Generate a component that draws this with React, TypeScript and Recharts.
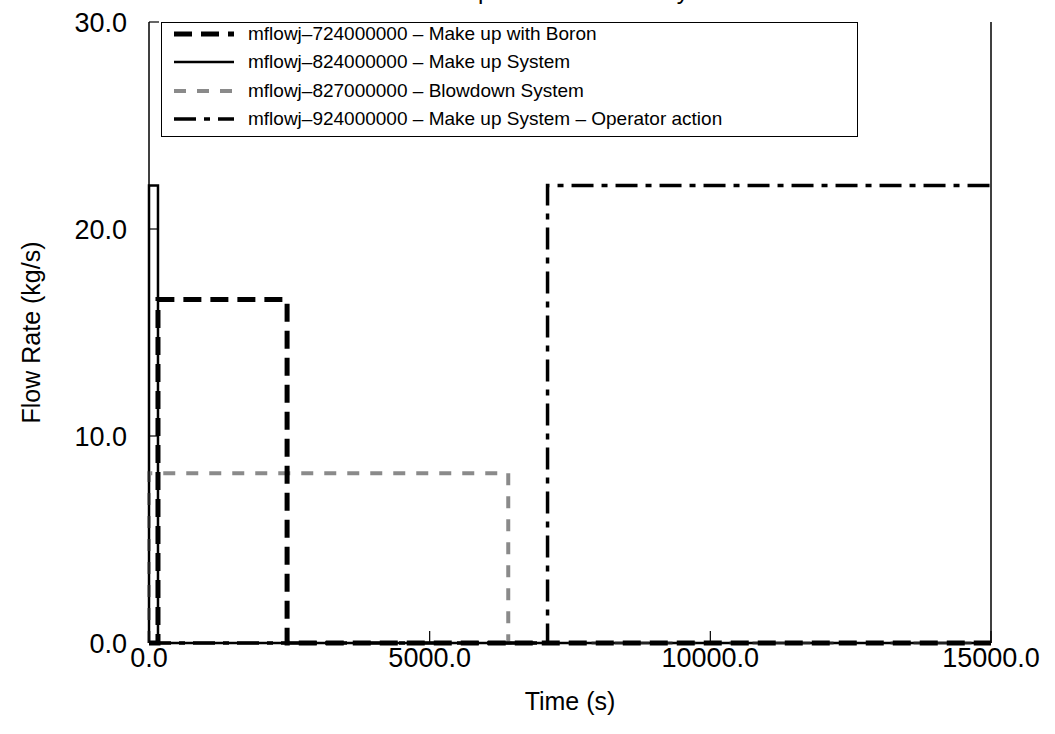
import { LineChart, Line, XAxis, YAxis, Legend } from 'recharts'

// each series is a step trace: times (s) where the flow changes, and the flow (kg/s) from then on
const boronTime = [0, 160, 2460, 15000]
const boronFlow = [0, 16.6, 0, 0]
const makeupTime = [0, 0, 160, 15000]
const makeupFlow = [0, 22.1, 0, 0]
const blowdownTime = [0, 0, 6400, 15000]
const blowdownFlow = [0, 8.2, 0, 0]
const operatorTime = [0, 7100, 15000]
const operatorFlow = [0, 22.1, 22.1]

const xMajor = [0, 5000, 10000, 15000]
const xMinor = [2500, 7500, 12500]
const yMajor = [0, 10, 20, 30]
const yMinor = [5, 15, 25]

const FONT = '"Liberation Sans", Arial, Helvetica, sans-serif'

type Pt = { t: number; v: number }
const toPoints = (time: number[], flow: number[]): Pt[] =>
  time.map((t, i) => ({ t, v: flow[i] }))

interface Series {
  id: string
  name: string
  data: Pt[]
  stroke: string
  width: number
  dash?: string
}

const series: Series[] = [
  {
    id: 'boron',
    name: 'mflowj–724000000 – Make up with Boron',
    data: toPoints(boronTime, boronFlow),
    stroke: '#000',
    width: 5,
    dash: '18 9',
  },
  {
    id: 'makeup',
    name: 'mflowj–824000000 – Make up System',
    data: toPoints(makeupTime, makeupFlow),
    stroke: '#000',
    width: 2.5,
  },
  {
    id: 'blowdown',
    name: 'mflowj–827000000 – Blowdown System',
    data: toPoints(blowdownTime, blowdownFlow),
    stroke: '#8a8a8a',
    width: 4,
    dash: '12 11',
  },
  {
    id: 'operator',
    name: 'mflowj–924000000 – Make up System – Operator action',
    data: toPoints(operatorTime, operatorFlow),
    stroke: '#000',
    width: 3.5,
    dash: '22 8 6 8',
  },
]

// paint order: thin solid first so the dashed traces sit on top of it at zero
const drawOrder = ['makeup', 'blowdown', 'boron', 'operator'].map(
  (id) => series.find((s) => s.id === id)!
)

const fmt = (v: number) => v.toFixed(1)

function LegendBox() {
  return (
    <div
      style={{
        position: 'relative',
        width: 697,
        height: 115,
        boxSizing: 'border-box',
        border: '1.5px solid #000',
        background: '#fff',
      }}
    >
      {series.map((s, i) => (
        <div
          key={s.id}
          style={{
            position: 'absolute',
            left: 0,
            top: i * 28.4 - 3,
            height: 28,
            display: 'flex',
            alignItems: 'center',
            whiteSpace: 'nowrap',
          }}
        >
          <svg width={60} height={12} style={{ marginLeft: 12, marginRight: 14 }}>
            <line
              x1={0}
              y1={6}
              x2={60}
              y2={6}
              stroke={s.stroke}
              strokeWidth={s.width}
              strokeDasharray={s.dash}
            />
          </svg>
          <span style={{ fontSize: 19, color: '#000' }}>{s.name}</span>
        </div>
      ))}
    </div>
  )
}

export default function App() {
  return (
    <div
      style={{
        position: 'absolute',
        left: 0,
        top: 0,
        width: 1055,
        height: 734,
        overflow: 'hidden',
        background: '#fff',
        fontFamily: FONT,
      }}
    >
      <div
        style={{
          position: 'absolute',
          left: 0,
          width: 1140,
          top: -21,
          lineHeight: '24px',
          fontSize: 24,
          textAlign: 'center',
          color: '#000',
        }}
      >
        Make up and Blowdown System
      </div>
      <LineChart
        width={1055}
        height={734}
        margin={{ top: 22, right: 63, bottom: 0, left: 0 }}
        style={{ fontFamily: FONT }}
      >
        <XAxis
          xAxisId="x"
          dataKey="t"
          type="number"
          domain={[0, 15000]}
          ticks={xMajor}
          interval={0}
          tickFormatter={fmt}
          tickSize={-12}
          tickMargin={17}
          height={91}
          stroke="#000"
          axisLine={{ stroke: '#000', strokeWidth: 1.5 }}
          tickLine={{ stroke: '#000', strokeWidth: 1.2 }}
          tick={{ fill: '#000', fontSize: 27 }}
          label={{
            content: ({ viewBox }: any) => (
              <text
                x={viewBox.x + viewBox.width / 2}
                y={viewBox.y + 67}
                textAnchor="middle"
                fontSize={25}
                fill="#000"
              >
                Time (s)
              </text>
            ),
          }}
        />
        <XAxis
          xAxisId="xminor"
          type="number"
          domain={[0, 15000]}
          ticks={xMinor}
          interval={0}
          mirror
          tick={false}
          axisLine={false}
          tickSize={7}
          tickLine={{ stroke: '#000', strokeWidth: 1.2 }}
        />
        <XAxis
          xAxisId="top"
          orientation="top"
          type="number"
          domain={[0, 15000]}
          height={0}
          tick={false}
          tickLine={false}
          axisLine={{ stroke: '#000', strokeWidth: 1.5 }}
        />
        <YAxis
          yAxisId="y"
          type="number"
          domain={[0, 30]}
          ticks={yMajor}
          interval={0}
          tickFormatter={fmt}
          width={149}
          tickSize={-10}
          tickMargin={32}
          axisLine={{ stroke: '#000', strokeWidth: 1.5 }}
          tickLine={{ stroke: '#000', strokeWidth: 1.2 }}
          tick={{ fill: '#000', fontSize: 27 }}
          label={{
            content: ({ viewBox }: any) => {
              const cx = 31
              const cy = viewBox.y + viewBox.height / 2
              return (
                <text
                  x={cx}
                  y={cy}
                  transform={`rotate(-90, ${cx}, ${cy})`}
                  textAnchor="middle"
                  dominantBaseline="central"
                  fontSize={25}
                  fill="#000"
                >
                  Flow Rate (kg/s)
                </text>
              )
            },
          }}
        />
        <YAxis
          yAxisId="yminor"
          type="number"
          domain={[0, 30]}
          ticks={yMinor}
          interval={0}
          mirror
          tick={false}
          axisLine={false}
          tickSize={6}
          tickLine={{ stroke: '#000', strokeWidth: 1.2 }}
        />
        <YAxis
          yAxisId="right"
          orientation="right"
          type="number"
          domain={[0, 30]}
          ticks={yMajor}
          interval={0}
          width={1}
          tick={false}
          tickSize={-12}
          axisLine={{ stroke: '#000', strokeWidth: 1.5 }}
          tickLine={{ stroke: '#000', strokeWidth: 1.2 }}
        />
        <YAxis
          yAxisId="rightminor"
          orientation="right"
          type="number"
          domain={[0, 30]}
          ticks={yMinor}
          interval={0}
          mirror
          tick={false}
          axisLine={false}
          tickSize={6}
          tickLine={{ stroke: '#000', strokeWidth: 1.2 }}
        />
        <Legend
          layout="vertical"
          align="center"
          verticalAlign="middle"
          content={() => <LegendBox />}
          wrapperStyle={{ left: 161, top: 22, width: 697, height: 115 }}
        />
        {drawOrder.map((s) => (
          <Line
            key={s.id}
            xAxisId="x"
            yAxisId="y"
            data={s.data}
            dataKey="v"
            name={s.name}
            type="stepAfter"
            stroke={s.stroke}
            strokeWidth={s.width}
            strokeDasharray={s.dash}
            dot={false}
            activeDot={false}
            isAnimationActive={false}
          />
        ))}
      </LineChart>
    </div>
  )
}
